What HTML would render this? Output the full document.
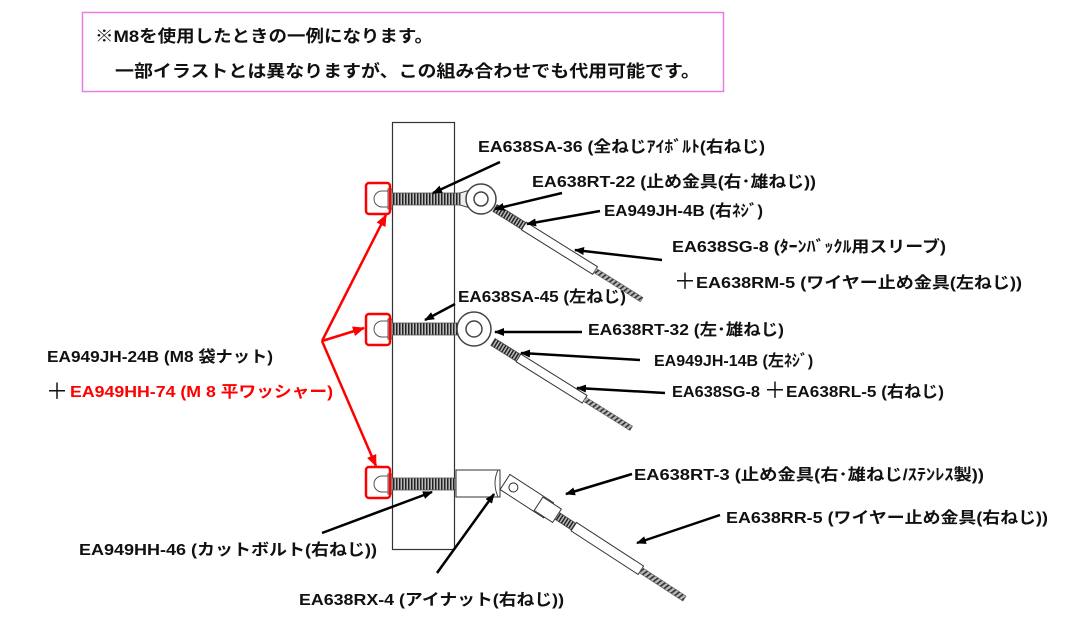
<!DOCTYPE html>
<html><head><meta charset="utf-8"><style>
html,body{margin:0;padding:0;background:#fff;}
svg{display:block;}
text{font-family:"Liberation Sans","Noto Sans CJK JP",sans-serif;font-weight:bold;font-size:16px;fill:#111;}
</style></head><body>
<svg width="1066" height="629" viewBox="0 0 1066 629" xmlns="http://www.w3.org/2000/svg">
<defs>
<marker id="ab" markerWidth="10" markerHeight="8" refX="9" refY="4" orient="auto" markerUnits="userSpaceOnUse"><path d="M0,0 L10,4 L0,8 z" fill="#000"/></marker>
<marker id="ar" markerWidth="12" markerHeight="10" refX="11" refY="5" orient="auto" markerUnits="userSpaceOnUse"><path d="M0,0 L12,5 L0,10 z" fill="#f00"/></marker>
<pattern id="th" width="3" height="10" patternUnits="userSpaceOnUse"><rect width="3" height="10" fill="#bbb"/><rect width="1.5" height="10" fill="#222"/></pattern>
<pattern id="cb" width="4" height="6" patternUnits="userSpaceOnUse" patternTransform="rotate(20)"><rect width="4" height="6" fill="#bbb"/><rect width="1.7" height="6" fill="#333"/></pattern>
</defs>
<rect x="82.5" y="12.5" width="641" height="79" fill="none" stroke="#e77ee7" stroke-width="1.5"/>
<text x="95" y="42" textLength="338" lengthAdjust="spacingAndGlyphs" style="font-size:17px">※M8を使用したときの一例になります。</text>
<text x="115" y="77" textLength="585" lengthAdjust="spacingAndGlyphs" style="font-size:17px">一部イラストとは異なりますが、この組み合わせでも代用可能です。</text>
<rect x="392.5" y="122.5" width="62" height="427" fill="#fff" stroke="#333" stroke-width="1.2"/>

<rect x="392" y="193" width="70" height="12" fill="url(#th)" stroke="#555" stroke-width="0.8"/>
<path d="M460,193 L470,190 L470,208 L460,205z" fill="#eee" stroke="#444"/>
<circle cx="481" cy="199" r="15" fill="#fff" stroke="#444" stroke-width="1.5"/>
<circle cx="481" cy="199" r="7" fill="#fff" stroke="#444" stroke-width="1.5"/>
<g transform="translate(495,208) rotate(32)"><rect x="0" y="-4" width="34" height="8" fill="url(#th)" stroke="#444" stroke-width="0.8"/><rect x="34" y="-4.5" width="84" height="9" fill="#fff" stroke="#333"/><rect x="118" y="-2.5" width="55" height="5" fill="url(#cb)" stroke="#666" stroke-width="0.6"/></g>
<rect x="392" y="323" width="70" height="12" fill="url(#th)" stroke="#555" stroke-width="0.8"/>
<circle cx="474" cy="329" r="17" fill="#fff" stroke="#444" stroke-width="1.5"/>
<circle cx="474" cy="329" r="8" fill="#fff" stroke="#444" stroke-width="1.5"/>
<g transform="translate(493,342) rotate(32)"><rect x="0" y="-4" width="30" height="8" fill="url(#th)" stroke="#444" stroke-width="0.8"/><rect x="30" y="-4.5" width="78" height="9" fill="#fff" stroke="#333"/><rect x="108" y="-2.5" width="55" height="5" fill="url(#cb)" stroke="#666" stroke-width="0.6"/></g>
<rect x="392" y="478" width="64" height="12" fill="url(#th)" stroke="#555" stroke-width="0.8"/>
<rect x="456" y="470" width="44" height="27" fill="#fff" stroke="#333"/>
<path d="M498,470 q-6,13 0,27" fill="none" stroke="#444"/>
<g transform="translate(505,482) rotate(33)"><rect x="0" y="-9" width="52" height="18" fill="#fff" stroke="#333"/><circle cx="10" cy="0" r="4.5" fill="#fff" stroke="#333"/><rect x="40" y="-8" width="22" height="16" fill="#fff" stroke="#333"/><rect x="62" y="-4" width="20" height="8" fill="url(#th)" stroke="#444" stroke-width="0.8"/><rect x="82" y="-5" width="80" height="10" fill="#fff" stroke="#333"/><rect x="162" y="-3" width="52" height="6" fill="url(#cb)" stroke="#666" stroke-width="0.6"/></g>

<g fill="#fff" stroke="#555" stroke-width="1">
<path d="M388,191 h-6 a8,8 0 0 0 0,16 h6z"/><rect x="388" y="189" width="4" height="20"/>
<path d="M388,321 h-6 a8,8 0 0 0 0,16 h6z"/><rect x="388" y="319" width="4" height="20"/>
<path d="M388,476 h-6 a8,8 0 0 0 0,16 h6z"/><rect x="388" y="474" width="4" height="20"/>
</g>
<g fill="none" stroke="#f00" stroke-width="2.5">
<rect x="366" y="183" width="24" height="31" rx="3"/>
<rect x="366" y="314" width="24" height="31" rx="3"/>
<rect x="366" y="467" width="24" height="31" rx="3"/>
<line x1="322" y1="341" x2="386" y2="215" marker-end="url(#ar)"/>
<line x1="322" y1="341" x2="364" y2="328" marker-end="url(#ar)"/>
<line x1="322" y1="341" x2="376" y2="466" marker-end="url(#ar)"/>
</g>

<g stroke="#000" stroke-width="2.5" marker-end="url(#ab)">
<line x1="500" y1="162" x2="433" y2="193"/>
<line x1="562" y1="193" x2="495" y2="209"/>
<line x1="600" y1="211" x2="527" y2="224"/>
<line x1="662" y1="260" x2="575" y2="250"/>
<line x1="455" y1="304" x2="425" y2="320"/>
<line x1="582" y1="332" x2="495" y2="332"/>
<line x1="640" y1="360" x2="521" y2="353"/>
<line x1="665" y1="393" x2="577" y2="388"/>
<line x1="632" y1="474" x2="566" y2="494"/>
<line x1="720" y1="515" x2="637" y2="543"/>
<line x1="322" y1="533" x2="432" y2="492"/>
<line x1="437" y1="573" x2="494" y2="494"/>
</g>

<text x="478" y="152" textLength="287" lengthAdjust="spacingAndGlyphs">EA638SA-36 (全ねじｱｲﾎﾞﾙﾄ(右ねじ)</text>
<text x="532" y="187" textLength="284" lengthAdjust="spacingAndGlyphs">EA638RT-22 (止め金具(右･雄ねじ))</text>
<text x="604" y="216" textLength="159" lengthAdjust="spacingAndGlyphs">EA949JH-4B (右ﾈｼﾞ)</text>
<text x="672" y="252" textLength="274" lengthAdjust="spacingAndGlyphs">EA638SG-8 (ﾀｰﾝﾊﾞｯｸﾙ用スリーブ)</text>
<text x="674" y="289" style="font-size:22px;font-weight:normal">＋</text>
<text x="696" y="288" textLength="326" lengthAdjust="spacingAndGlyphs">EA638RM-5 (ワイヤー止め金具(左ねじ))</text>
<text x="458" y="302" textLength="168" lengthAdjust="spacingAndGlyphs">EA638SA-45 (左ねじ)</text>
<text x="588" y="335" textLength="196" lengthAdjust="spacingAndGlyphs">EA638RT-32 (左･雄ねじ)</text>
<text x="654" y="366">EA949JH-14B (左ﾈｼﾞ)</text>
<text x="672" y="397" textLength="88" lengthAdjust="spacingAndGlyphs">EA638SG-8</text>
<text x="764" y="398" style="font-size:22px;font-weight:normal">＋</text>
<text x="786" y="397" textLength="158" lengthAdjust="spacingAndGlyphs">EA638RL-5 (右ねじ)</text>
<text x="47" y="362" textLength="226" lengthAdjust="spacingAndGlyphs">EA949JH-24B (M8 袋ナット)</text>
<text x="46" y="399" style="font-size:22px;font-weight:normal">＋</text>
<text x="70" y="397" textLength="263" lengthAdjust="spacingAndGlyphs" style="fill:#f00">EA949HH-74 (M 8 平ワッシャー)</text>
<text x="634" y="480" textLength="350" lengthAdjust="spacingAndGlyphs">EA638RT-3 (止め金具(右･雄ねじ/ｽﾃﾝﾚｽ製))</text>
<text x="726" y="523" textLength="322" lengthAdjust="spacingAndGlyphs">EA638RR-5 (ワイヤー止め金具(右ねじ))</text>
<text x="79" y="555" textLength="298" lengthAdjust="spacingAndGlyphs">EA949HH-46 (カットボルト(右ねじ))</text>
<text x="299" y="605" textLength="265" lengthAdjust="spacingAndGlyphs">EA638RX-4 (アイナット(右ねじ))</text>
</svg>
</body></html>
